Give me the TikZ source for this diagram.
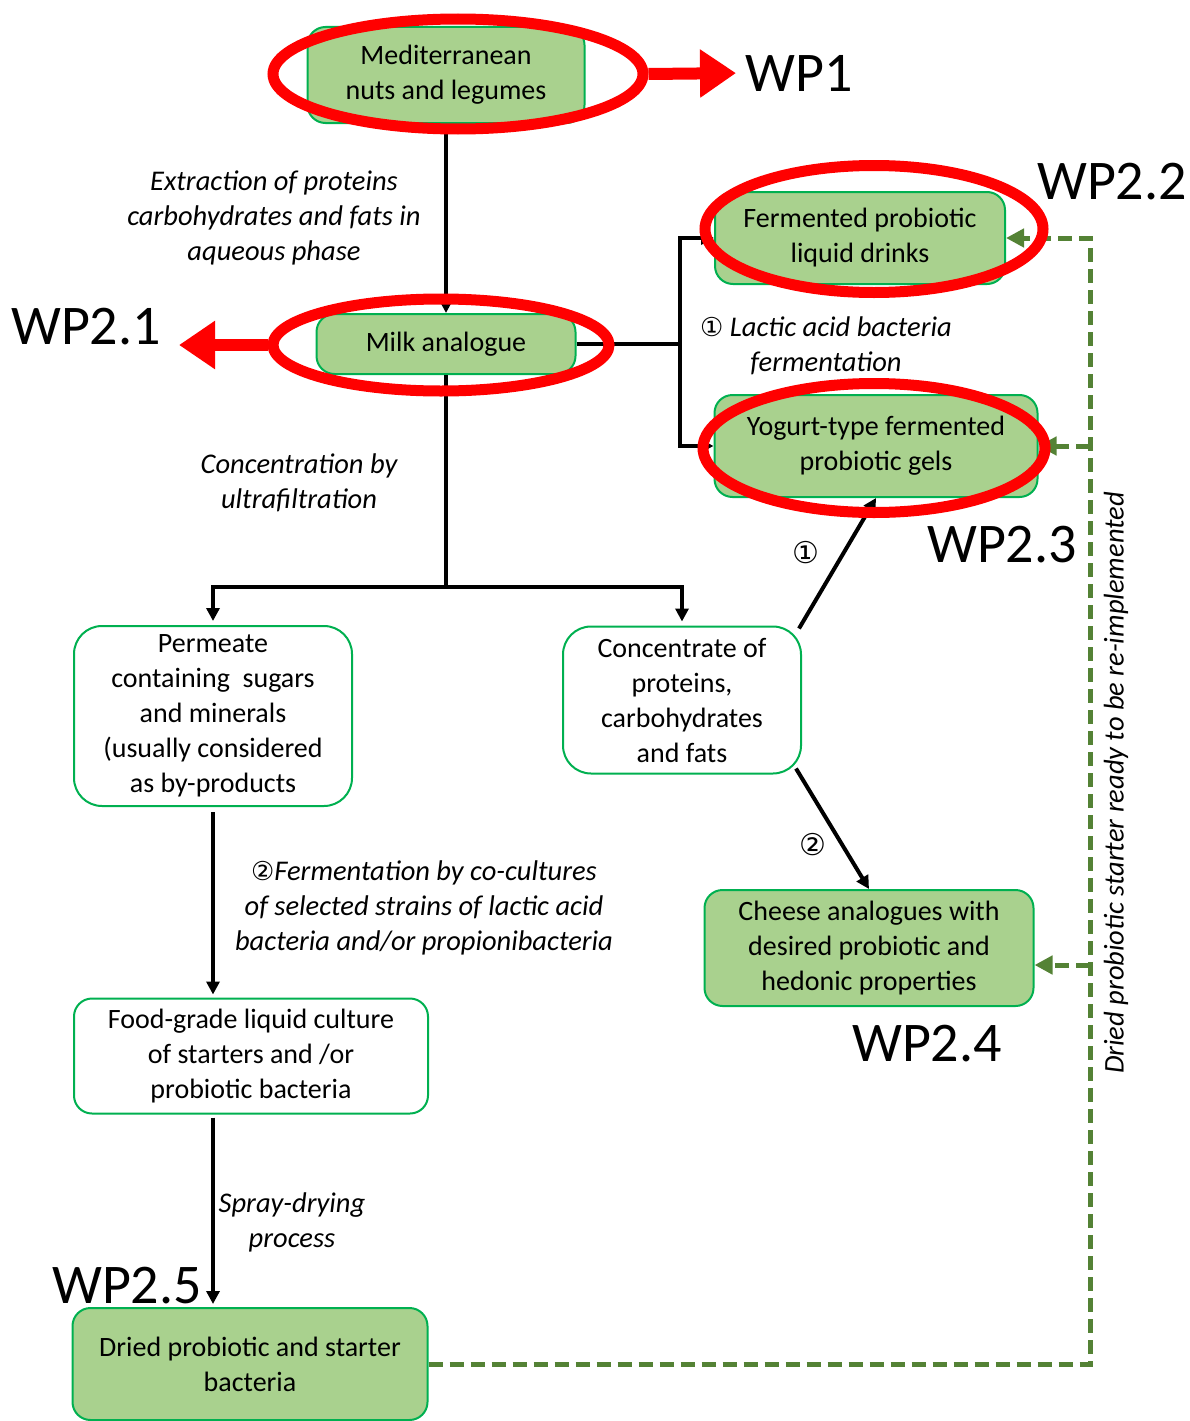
\documentclass[tikz,border=0pt]{standalone}
\usepackage{fontspec}
\setmainfont{Carlito}
\newfontfamily\circfont{DejaVu Sans}
\usetikzlibrary{arrows.meta,shapes.geometric,calc}
\definecolor{boxfill}{HTML}{A9D18E}
\definecolor{boxline}{HTML}{00B050}
\definecolor{loopgreen}{HTML}{548235}

\begin{document}
\begin{tikzpicture}[x=1pt, y=-1pt,
    box/.style={draw=boxline, line width=2pt, rounded corners=18pt, align=center, inner sep=0pt, font=\fontsize{28}{35}\selectfont},
    wpbox/.style={box, fill=boxfill},
    plainbox/.style={box, fill=white},
    ring/.style={draw=red, line width=11pt, ellipse, inner sep=0pt},
    wp/.style={font=\fontsize{56}{60}\selectfont, inner sep=0pt},
    redarrow/.style={red, line width=12pt, -{Triangle[length=36pt,width=46pt]}},
    flow/.style={line width=4pt, -{Triangle[length=13pt,width=13pt]}},
    flowline/.style={line width=4pt},
    feedback/.style={loopgreen, line width=5pt, dash pattern=on 14pt off 7pt},
    backtip/.style={-{Triangle[length=18pt,width=18pt]}},
    note/.style={align=center, font=\fontsize{28.5}{35}\selectfont\itshape, inner sep=0pt},
    circnum/.style={font=\circfont\fontsize{30}{30}\selectfont, inner sep=0pt}]
  \useasboundingbox (0,0) rectangle (1189,1421);

  \node[wpbox, minimum width=277pt, minimum height=96pt] (nuts) at (446,75) {Mediterranean\\nuts and legumes};
  \node[wpbox, minimum width=259pt, minimum height=60pt] (milk) at (446,344) {Milk analogue};
  \node[wpbox, minimum width=290pt, minimum height=92pt] (drinks) at (860,238) {Fermented probiotic\\liquid drinks};
  \node[wpbox, minimum width=323pt, minimum height=102pt] (gels) at (876,446) {Yogurt-type fermented\\probiotic gels};
  \node[plainbox, minimum width=278pt, minimum height=180pt, rounded corners=28pt] (permeate) at (213,716) {Permeate\\containing~ sugars\\and minerals\\(usually considered\\as by-products};
  \node[plainbox, minimum width=238pt, minimum height=147pt, rounded corners=28pt] (conc) at (682,700) {Concentrate of\\proteins,\\carbohydrates\\and fats};
  \node[wpbox, minimum width=329pt, minimum height=116pt] (cheese) at (869,948) {Cheese analogues with\\desired probiotic and\\hedonic properties};
  \node[plainbox, minimum width=354pt, minimum height=115pt] (culture) at (251,1056) {Food-grade liquid culture\\of starters and /or\\probiotic bacteria};
  \node[wpbox, minimum width=355pt, minimum height=112pt] (dried) at (250,1364) {Dried probiotic and starter\\bacteria};

  \draw[flow] (nuts.south) -- (milk.north);
  \draw[flowline] (milk.south) -- (446,587) coordinate (fork);
  \draw[flow, shorten >=4pt] (fork) -| (permeate.north);
  \draw[flow, shorten >=4pt] (fork) -| (conc.north);
  \draw[flowline] (milk.east) -- (680,344) coordinate (split);
  \draw[flow] (split) |- (drinks.west);
  \draw[flow] (split) |- (gels.west);
  \draw[flow] ($(conc.north east)+(-3,3)$) -- (gels.south);
  \draw[flow] ($(conc.south east)+(-6,-6)$) -- (cheese.north);
  \draw[flow, shorten <=5pt, shorten >=3pt] (permeate.south) -- (permeate.south |- culture.north);
  \draw[flow, shorten <=3pt, shorten >=3pt] (permeate.south |- culture.south) -- (permeate.south |- dried.north);

  \coordinate (rail) at (1090,0);
  \draw[feedback, backtip] (dried.east) -| (rail |- drinks.east) -- (drinks.east);
  \draw[feedback, backtip] (rail |- gels.east) -- (gels.east);
  \draw[feedback, backtip] (rail |- 0,965) -- (cheese.east |- 0,965);

  \node[note] (extract) at (274,218) {Extraction of proteins\\carbohydrates and fats in\\aqueous phase};
  \node[note] (ultra) at (299,483) {Concentration by\\ultrafiltration};
  \node[note] (lactic) at (826,346) {{\circfont\upshape\fontsize{26}{26}\selectfont ①} Lactic acid bacteria\\fermentation};
  \node[note] (cocult) at (424,908) {{\circfont\upshape\fontsize{26}{26}\selectfont ②}Fermentation by co-cultures\\of selected strains of lactic acid\\bacteria and/or propionibacteria};
  \node[note] (spray) at (292,1222) {Spray-drying\\process};
  \node[note, rotate=90] (reuse) at (1116,783) {Dried probiotic starter ready to be re-implemented};
  \node[circnum] (stepone) at (806,553) {①};
  \node[circnum] (steptwo) at (813,845) {②};

  \node[ring, minimum width=370pt, minimum height=110pt] (ringnuts) at (458,74) {};
  \node[ring, minimum width=338pt, minimum height=127pt] (ringdrinks) at (874,229) {};
  \node[ring, minimum width=336pt, minimum height=92pt] (ringmilk) at (441,345) {};
  \node[ring, minimum width=342pt, minimum height=129pt] (ringgels) at (874,448) {};

  \node[wp, anchor=west] (wp1) at (745,73) {WP1};
  \node[wp] (wp22) at (1112,182) {WP2.2};
  \node[wp] (wp21) at (86,327) {WP2.1};
  \node[wp] (wp23) at (1002,545) {WP2.3};
  \node[wp] (wp24) at (927,1044) {WP2.4};
  \node[wp] (wp25) at (127,1286) {WP2.5};

  \draw[redarrow, shorten >=9pt] (ringnuts.east) -- (wp1.west);
  \draw[redarrow, shorten >=18pt] (ringmilk.west) -- (ringmilk.west -| wp21.east);
\end{tikzpicture}
\end{document}
